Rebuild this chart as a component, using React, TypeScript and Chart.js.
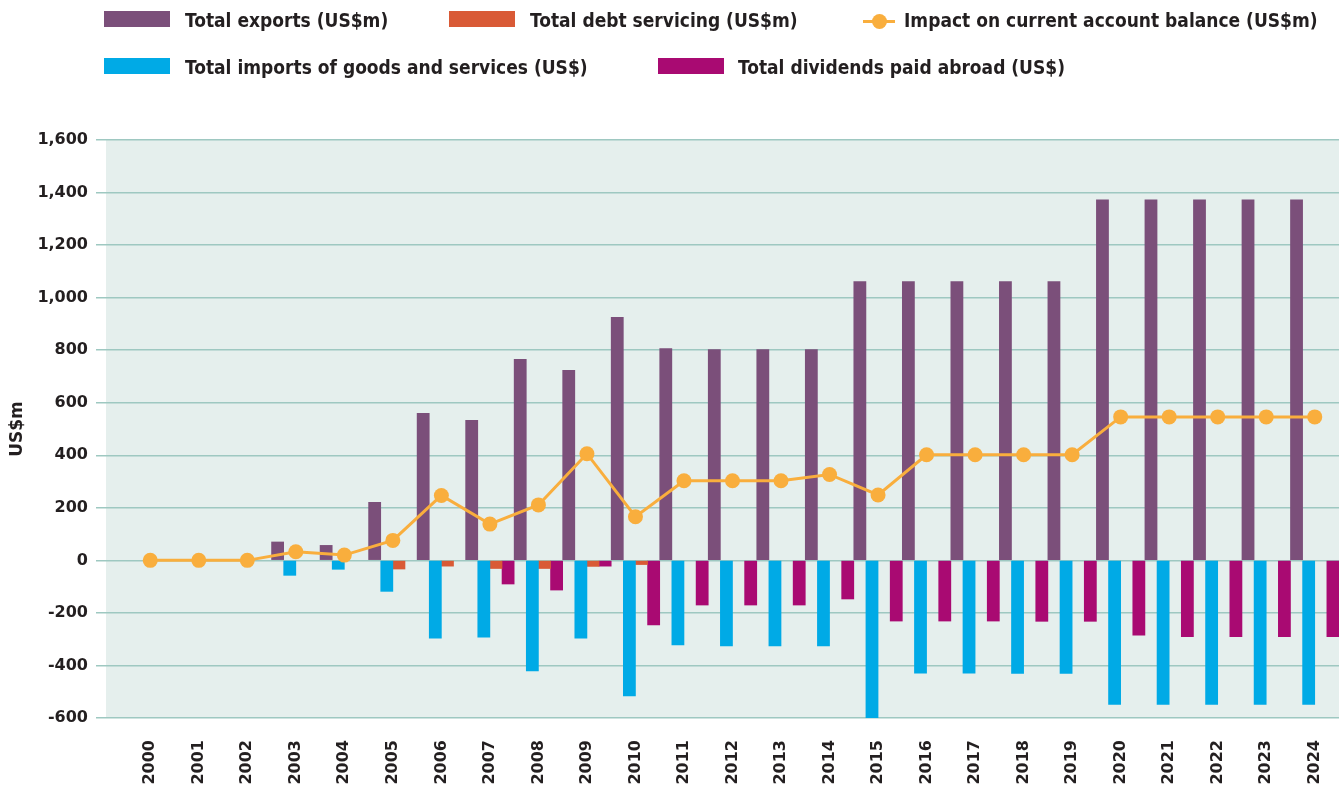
import React, { useEffect, useRef } from "react";
import { Chart, registerables } from "chart.js";

Chart.register(...registerables);

const years = ["2000","2001","2002","2003","2004","2005","2006","2007","2008","2009","2010","2011","2012","2013","2014","2015","2016","2017","2018","2019","2020","2021","2022","2023","2024"];
const exportsVals = [null,null,null,70,57,221,560,533,765,723,925,806,802,802,802,1061,1061,1061,1061,1061,1372,1372,1372,1372,1372];
const importsVals = [null,null,null,-57,-34,-118,-296,-292,-421,-296,-516,-322,-326,-326,-326,-600,-429,-429,-430,-430,-548,-548,-548,-548,-548];
const debtVals = [null,null,null,null,null,-33,-22,-31,-31,-23,-16,null,null,null,null,null,null,null,null,null,null,null,null,null,null];
const dividendVals = [null,null,null,null,null,null,null,-90,-113,-22,-246,-170,-170,-170,-147,-231,-231,-231,-232,-232,-285,-290,-290,-290,-290];
const impactVals = [0,0,0,33,20,76,247,138,211,406,166,303,303,303,327,249,402,402,402,402,546,546,546,546,546];

const C_EXPORTS = "#7b4f7a";
const C_IMPORTS = "#00aae6";
const C_DEBT = "#d95a36";
const C_DIV = "#a90a72";
const C_LINE = "#f9ae3d";
const TXT = "#231f20";
const AXIS_FONT = "'DejaVu Sans', sans-serif";
const LEGEND_FONT = "'DejaVu Sans Condensed', 'DejaVu Sans', sans-serif";

const bgPlugin = {
  id: "plotBg",
  beforeDraw(chart: any) {
    const { ctx, chartArea } = chart;
    ctx.save();
    ctx.fillStyle = "#e5efed";
    ctx.fillRect(106, chartArea.top, chartArea.right - 106, chartArea.bottom - chartArea.top);
    ctx.restore();
  },
};

function LegendBox({ x, y, color }: { x: number; y: number; color: string }) {
  return <div style={{ position: "absolute", left: x, top: y, width: 66, height: 16, background: color }} />;
}
function LegendText({ x, y, text }: { x: number; y: number; text: string }) {
  return (
    <div style={{ position: "absolute", left: x, top: y, fontFamily: LEGEND_FONT, fontWeight: "bold", fontSize: 19, lineHeight: "19px", color: TXT, whiteSpace: "nowrap" }}>
      {text}
    </div>
  );
}

export default function App() {
  const ref = useRef<HTMLCanvasElement | null>(null);
  useEffect(() => {
    if (!ref.current) return;
    const chart = new Chart(ref.current, {
      type: "bar",
      data: {
        labels: years,
        datasets: [
          { type: "line", label: "Impact on current account balance (US$m)", data: impactVals, borderColor: C_LINE, backgroundColor: C_LINE, borderWidth: 3, pointRadius: 7.5, pointHoverRadius: 7.5, pointBackgroundColor: C_LINE, pointBorderWidth: 0, order: 0, clip: false } as any,
          { label: "Total exports (US$m)", data: exportsVals, backgroundColor: C_EXPORTS, order: 1 },
          { label: "Total imports of goods and services (US$)", data: importsVals, backgroundColor: C_IMPORTS, order: 1 },
          { label: "Total debt servicing (US$m)", data: debtVals, backgroundColor: C_DEBT, order: 1 },
          { label: "Total dividends paid abroad (US$)", data: dividendVals, backgroundColor: C_DIV, order: 1 },
        ],
      },
      options: {
        responsive: false,
        animation: false,
        devicePixelRatio: 1,
        layout: { autoPadding: false, padding: { top: 140, left: 0, right: 0, bottom: 0 } },
        datasets: { bar: { barPercentage: 1, categoryPercentage: 1, borderWidth: 0 } } as any,
        plugins: { legend: { display: false }, tooltip: { enabled: false } },
        scales: {
          x: {
            type: "category",
            offset: true,
            grid: { display: false, drawTicks: false },
            border: { display: false },
            ticks: { autoSkip: false, maxRotation: 90, minRotation: 90, padding: 22, color: TXT, font: { family: AXIS_FONT, weight: "bold", size: 16 } },
            afterFit: (s: any) => { s.height = 73; s.paddingLeft = 0; s.paddingRight = 0; },
          },
          y: {
            min: -600,
            max: 1600,
            ticks: { stepSize: 200, padding: 8, color: TXT, font: { family: AXIS_FONT, weight: "bold", size: 16 }, callback: (v: any) => Number(v).toLocaleString("en-US") },
            grid: { color: "#9ec8c1", lineWidth: 1.5, tickLength: 30, drawTicks: true },
            border: { display: false },
            title: { display: true, text: "US$m", color: TXT, font: { family: AXIS_FONT, weight: "bold", size: 17 }, padding: { top: 7, bottom: 0 } },
            afterFit: (s: any) => { s.width = 126; s.paddingTop = 0; s.paddingBottom = 0; },
          },
        },
      },
      plugins: [bgPlugin],
    });
    return () => chart.destroy();
  }, []);

  return (
    <div style={{ position: "fixed", left: 0, top: 0, width: 1339, height: 791, background: "#fff", overflow: "hidden" }}>
      <canvas ref={ref} width={1339} height={791} style={{ position: "absolute", left: 0, top: 0, width: 1339, height: 791 }} />
      <LegendBox x={104} y={11} color={C_EXPORTS} />
      <LegendText x={185} y={11} text="Total exports (US$m)" />
      <LegendBox x={449} y={11} color={C_DEBT} />
      <LegendText x={530} y={11} text="Total debt servicing (US$m)" />
      <div style={{ position: "absolute", left: 863, top: 20, width: 32, height: 3, background: C_LINE }} />
      <div style={{ position: "absolute", left: 872, top: 14, width: 15, height: 15, borderRadius: "50%", background: C_LINE }} />
      <LegendText x={904} y={11} text="Impact on current account balance (US$m)" />
      <LegendBox x={104} y={58} color={C_IMPORTS} />
      <LegendText x={185} y={58} text="Total imports of goods and services (US$)" />
      <LegendBox x={658} y={58} color={C_DIV} />
      <LegendText x={738} y={58} text="Total dividends paid abroad (US$)" />
    </div>
  );
}
